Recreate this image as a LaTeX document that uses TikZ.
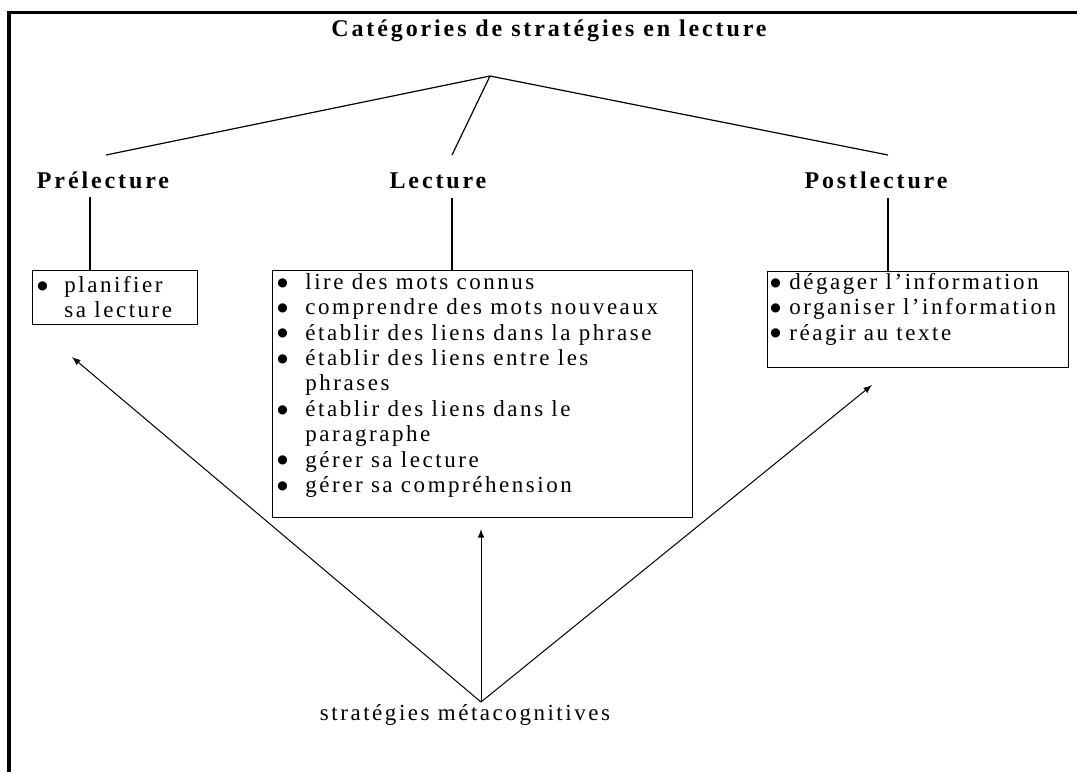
\documentclass[tikz,border=0pt]{standalone}
\usepackage{fontspec}
\setmainfont{Liberation Serif}[LetterSpace=11,BoldFeatures={LetterSpace=12}]
\newfontfamily\bltfont{DejaVu Sans}
\usetikzlibrary{positioning}

\newcommand{\listfont}{\fontsize{11.5}{12.7}\selectfont}
\newcommand{\blt}{\raisebox{1.6pt}{\bltfont\fontsize{6}{6}\selectfont ●}}

\begin{document}
\begin{tikzpicture}[x=0.5pt,y=-0.5pt,
	heading/.style={font=\fontsize{12}{12}\selectfont\bfseries,anchor=base},
	listbox/.style={draw,line width=0.7pt,anchor=north west,inner sep=0pt},
	listtext/.style={inner sep=0pt,font=\listfont},
	branch/.style={line width=0.6pt},
	metaarrow/.style={-latex,line width=0.5pt}]
\useasboundingbox (0,0) rectangle (1077,772);
\draw[line width=1.6pt] (9,772) -- (9,12.5) -- (1077,12.5);

% tree of categories
\node[heading] (title) at (549,36) {Catégories de stratégies en lecture};
\coordinate (apex) at (490,76);
\coordinate (prebr) at (106,155);
\coordinate (lecbr) at (452,155);
\coordinate (postbr) at (888,155);
\draw[branch] (prebr) -- (apex) -- (postbr) (apex) -- (lecbr);

\node[heading] (pre) at (103,188) {Prélecture};
\node[heading] (lec) at (438,188) {Lecture};
\node[heading] (post) at (876,188) {Postlecture};

% boxes
\node[listbox,minimum width=82.5pt,minimum height=27pt] (prebox) at (32,270) {};
\node[listtext,below right=2.1pt and 2.5pt of prebox.north west] (pretext)
	{\begin{tabular}{@{}p{13.5pt}@{}l@{}}
	\blt & planifier\\
	& sa lecture
	\end{tabular}};
\node[listbox,minimum width=210pt,minimum height=123.5pt] (lecbox) at (272,270) {};
\node[listtext,below right=0.6pt and 2.5pt of lecbox.north west] (lectext)
	{\begin{tabular}{@{}p{14pt}@{}l@{}}
	\blt & lire des mots connus\\
	\blt & comprendre des mots nouveaux\\
	\blt & établir des liens dans la phrase\\
	\blt & établir des liens entre les\\
	& phrases\\
	\blt & établir des liens dans le\\
	& paragraphe\\
	\blt & gérer sa lecture\\
	\blt & gérer sa compréhension
	\end{tabular}};
\node[listbox,minimum width=150.5pt,minimum height=48pt] (postbox) at (767,271) {};
\node[listtext,below right=0.1pt and 1.5pt of postbox.north west] (posttext)
	{\begin{tabular}{@{}p{9.5pt}@{}l@{}}
	\blt & dégager l’information\\
	\blt & organiser l’information\\
	\blt & réagir au texte
	\end{tabular}};

\coordinate (prestem) at (90,197);
\coordinate (lecstem) at (452,198);
\coordinate (poststem) at (888,198);
\draw[branch] (prestem) -- (prestem |- prebox.north);
\draw[branch] (lecstem) -- (lecstem |- lecbox.north);
\draw[branch] (poststem) -- (poststem |- postbox.north);

% metacognitive arrows
\node[font=\listfont,anchor=base] (meta) at (465,720) {stratégies métacognitives};
\coordinate (metatop) at (481,702);
\coordinate (pretip) at (72,357);
\coordinate (lectip) at (481,529);
\coordinate (posttip) at (872,385);
\draw[metaarrow] (metatop) -- (pretip);
\draw[metaarrow] (metatop) -- (lectip);
\draw[metaarrow] (metatop) -- (posttip);
\end{tikzpicture}
\end{document}
